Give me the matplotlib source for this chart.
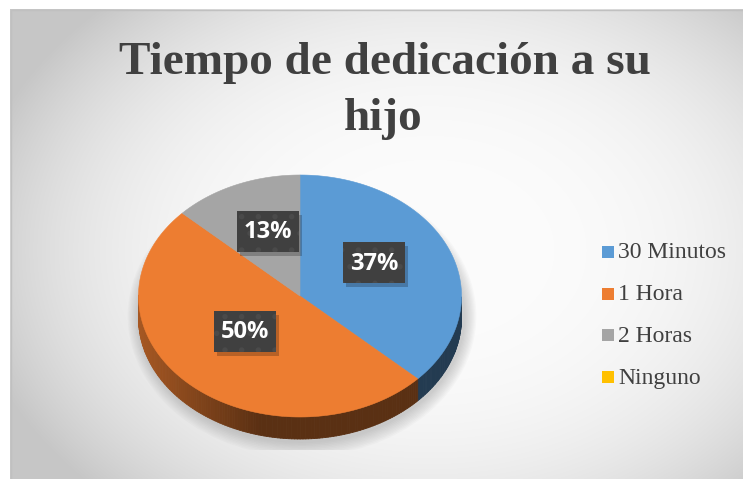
import numpy as np
import matplotlib.pyplot as plt
from matplotlib.patches import Polygon, Rectangle, Ellipse
from matplotlib.collections import PolyCollection
from matplotlib.colors import to_rgb

title_lines = ["Tiempo de dedicación a su", "hijo"]
categories = ["30 Minutos", "1 Hora", "2 Horas", "Ninguno"]
values = [37, 50, 13, 0]
colors = ["#5b9bd5", "#ed7d31", "#a5a5a5", "#ffc000"]

W, H = 743, 479
CX, CY, RX, RY, DEPTH = 300, 296, 161.5, 121, 22


def ell(t):
    """point on the top ellipse, t in degrees (math convention), pixel coords"""
    r = np.radians(t)
    return CX + RX * np.cos(r), CY - RY * np.sin(r)


fig = plt.figure(figsize=(W / 100, H / 100), dpi=100)
ax = fig.add_axes([0, 0, 1, 1])
ax.set_xlim(0, W)
ax.set_ylim(H, 0)
ax.axis("off")

# chart area background: radial grey gradient
yy, xx = np.mgrid[9:H + 1, 10:W + 1]
r = np.sqrt(((xx - 430) / 450.0) ** 2 + ((yy - 250) / 330.0) ** 2)
v = np.clip(252 - 48 * r ** 3, 198, 252) / 255.0
bg = np.dstack([v, v, v])
ax.imshow(bg, extent=[10, W + 1, H + 1, 9], zorder=0, interpolation="bilinear")
ax.plot([10.5, 10.5, W], [H, 9.5, 9.5], color="#c0c0c0", lw=1, zorder=1)

# soft shadow below the pie
clip = Rectangle((0, 0), W, 450, transform=ax.transData)
for k in range(10):
    e = Ellipse((CX + 2, CY + 20), 2 * (RX + 2 + k * 1.2), 2 * (RY + 6 + k * 1.5),
                fc="#7f7f7f", ec="none", alpha=0.04, zorder=2)
    ax.add_patch(e)
    e.set_clip_path(clip)

# slice angles: start at 12 o'clock, clockwise
fracs = np.array(values, dtype=float) / sum(values)
starts = 90 - 360 * np.concatenate([[0], np.cumsum(fracs)[:-1]])
ends = starts - 360 * fracs

# sides (front half only)
quads, qcols = [], []
for a0, a1, c in zip(starts, ends, colors):
    if a0 == a1:
        continue
    ts = np.linspace(a0, a1, int(abs(a0 - a1)) + 2)
    base = np.array(to_rgb(c))
    for t0, t1 in zip(ts[:-1], ts[1:]):
        if np.sin(np.radians((t0 + t1) / 2)) >= 0:
            continue
        x0, y0 = ell(t0)
        x1, y1 = ell(t1)
        quads.append([(x0, y0), (x1, y1), (x1, y1 + DEPTH), (x0, y0 + DEPTH)])
        xm = (x0 + x1) / 2
        f = 0.38 + 0.32 * np.clip((CX - 40 - xm) / (RX - 40), 0, 1)
        qcols.append(base * f)
ax.add_collection(PolyCollection(quads, facecolors=qcols, edgecolors=qcols,
                                 linewidths=0.6, zorder=3))

# top faces
for a0, a1, c in zip(starts, ends, colors):
    if a0 == a1:
        continue
    ts = np.linspace(a0, a1, int(abs(a0 - a1)) * 2 + 2)
    pts = [(CX, CY)] + [ell(t) for t in ts]
    ax.add_patch(Polygon(pts, closed=True, fc=c, ec=c, lw=0.4, zorder=4))

# data labels
plt.rcParams["hatch.linewidth"] = 1.5
for a0, a1, val in zip(starts, ends, values):
    if val == 0:
        continue
    mid = np.radians((a0 + a1) / 2)
    lx = CX + 0.5 * RX * np.cos(mid)
    ly = CY - 0.5 * RY * np.sin(mid) - 9
    bw, bh = 62, 41
    ax.add_patch(Rectangle((lx - bw / 2 + 3, ly - bh / 2 + 4), bw, bh,
                           fc="#000000", ec="none", alpha=0.22, zorder=5))
    ax.add_patch(Rectangle((lx - bw / 2, ly - bh / 2), bw, bh,
                           fc="#404040", ec="#4a4a4a", lw=0, hatch=".", zorder=6))
    ax.text(lx, ly + 1, f"{val}%", ha="center", va="center", color="white",
            fontsize=17, fontweight="bold", family="Open Sans", zorder=7)

# title
ax.text(385, 74, title_lines[0], ha="center", va="baseline", color="#404040",
        fontsize=34, fontweight="bold", family="Liberation Serif", zorder=8)
ax.text(383, 130, title_lines[1], ha="center", va="baseline", color="#404040",
        fontsize=34, fontweight="bold", family="Liberation Serif", zorder=8)

# legend
for i, (lab, c) in enumerate(zip(categories, colors)):
    y = 252 + i * 41.7
    ax.add_patch(Rectangle((602, y - 6), 12, 12, fc=c, ec="none", zorder=8))
    ax.text(618, y + 1, lab, ha="left", va="center", color="#404040",
            fontsize=17, family="Liberation Serif", zorder=8)

fig.savefig("out.png", dpi=100)
